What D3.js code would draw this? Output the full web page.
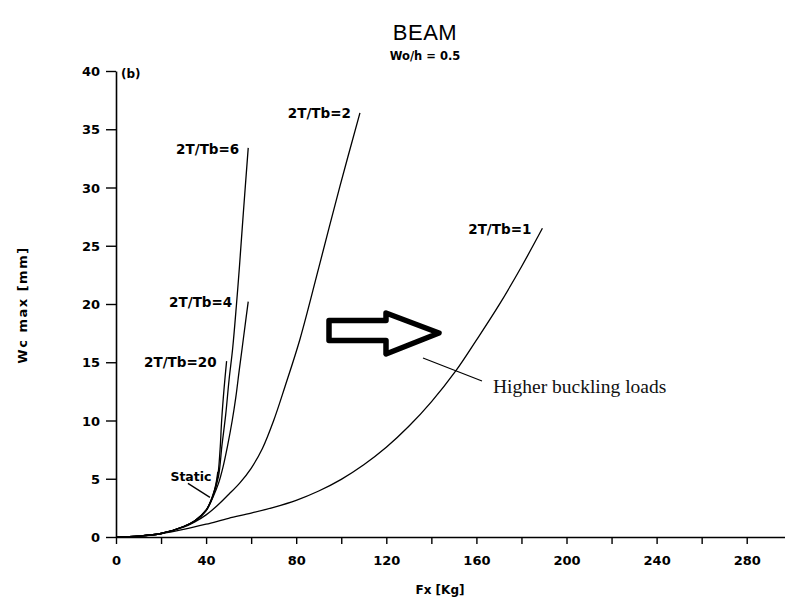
<!DOCTYPE html>
<html><head><meta charset="utf-8">
<script src="https://cdn.jsdelivr.net/npm/d3@7"></script>
<style>body{margin:0;background:#fff}svg{display:block}</style>
</head><body><svg id="c" width="785" height="603"></svg>
<script>
// ---- data ----
const xTickValues = d3.range(0, 300, 20);
const xTickLabels = [0, 40, 80, 120, 160, 200, 240, 280];
const yTickValues = [0, 5, 10, 15, 20, 25, 30, 35, 40];
const seriesNames = ["2T/Tb=1", "2T/Tb=2", "2T/Tb=6", "2T/Tb=4", "2T/Tb=20", "Static"];

const fxR1 = [0, 10, 20, 30, 40, 50, 60, 70, 80, 90, 100, 110, 120, 130, 140, 151, 160, 170, 180, 189.3];
const wcR1 = [0, 0.07, 0.28, 0.65, 1.1, 1.6, 2.05, 2.55, 3.15, 3.95, 4.95, 6.2, 7.7, 9.5, 11.6, 14.3, 16.9, 19.9, 23.2, 26.5];

const fxR2 = [0, 10, 20, 30, 35, 40, 45, 50, 55, 60, 65, 70, 75, 81.7, 90, 99.4, 108.3];
const wcR2 = [0, 0.08, 0.3, 0.85, 1.3, 1.9, 2.7, 3.65, 4.65, 5.9, 7.6, 10.0, 12.9, 17.0, 23.1, 30.1, 36.4];

const fxR6 = [0, 10, 20, 30, 35, 40, 43, 45.5, 47, 48.7, 50.2, 51.8, 53.5, 54.8, 56.6, 58.7];
const wcR6 = [0, 0.08, 0.3, 0.9, 1.4, 2.3, 3.5, 5.2, 7.8, 10.5, 13.5, 16.2, 20.0, 23.2, 28.0, 33.4];

const fxR4 = [0, 10, 20, 30, 35, 40, 43, 45.5, 47.5, 49.5, 51.6, 53.2, 54.7, 56, 57.4, 58.7];
const wcR4 = [0, 0.08, 0.3, 0.9, 1.4, 2.3, 3.4, 4.6, 6.0, 7.8, 10.0, 12.0, 14.3, 16.2, 18.3, 20.2];

const fxR20 = [0, 10, 20, 30, 35, 40, 43, 45, 46.2, 46.9, 48.0, 49.1];
const wcR20 = [0, 0.08, 0.3, 0.9, 1.4, 2.3, 3.6, 5.0, 7.5, 10.0, 12.8, 15.1];

const fxStatic = [0, 10, 20, 30, 35, 40, 43, 44.3, 45.2];
const wcStatic = [0, 0.08, 0.3, 0.88, 1.35, 2.25, 3.5, 4.5, 5.6];

const series = [
  {name: seriesNames[0], fx: fxR1, wc: wcR1, lx: -11, ly: 1},
  {name: seriesNames[1], fx: fxR2, wc: wcR2, lx: -9, ly: 0},
  {name: seriesNames[2], fx: fxR6, wc: wcR6, lx: -9, ly: 1},
  {name: seriesNames[3], fx: fxR4, wc: wcR4, lx: -16, ly: 0},
  {name: seriesNames[4], fx: fxR20, wc: wcR20, lx: -10, ly: 1},
  {name: seriesNames[5], fx: fxStatic, wc: wcStatic, lx: null}
];

// ---- chart ----
const svg = d3.select("#c");
const x = d3.scaleLinear().domain([0, 297]).range([116, 785]);
const y = d3.scaleLinear().domain([0, 40]).range([537, 71]);
const tickFont = "DejaVu Sans, sans-serif";

// x axis
const gx = svg.append("g").attr("transform", `translate(0,${y(0)})`)
  .call(d3.axisBottom(x).tickValues(xTickValues).tickSize(7).tickSizeOuter(0).tickPadding(12)
    .tickFormat(d => xTickLabels.includes(d) ? d : ""));
// y axis
const gy = svg.append("g").attr("transform", `translate(${x(0)},0)`)
  .call(d3.axisLeft(y).tickValues(yTickValues).tickSize(10).tickSizeOuter(0).tickPadding(6));

[gx, gy].forEach(g => {
  g.selectAll("path.domain").attr("stroke", "#000").attr("stroke-width", 1.6);
  g.selectAll(".tick line").attr("stroke", "#000").attr("stroke-width", 1.4);
  g.selectAll(".tick text").attr("fill", "#000").attr("font-family", tickFont)
    .attr("font-size", 13).attr("font-weight", "bold");
});
gy.selectAll(".tick text").attr("dy", "0.36em");

// curves
const line = d3.line().x(d => x(d[0])).y(d => y(d[1])).curve(d3.curveCatmullRom.alpha(0.5));
series.forEach(s => {
  const pts = s.fx.map((f, i) => [f, s.wc[i]]);
  svg.append("path").attr("d", line(pts)).attr("fill", "none")
    .attr("stroke", "#000").attr("stroke-width", 1.3);
  if (s.lx !== null) {
    const last = pts[pts.length - 1];
    svg.append("text").attr("x", x(last[0]) + s.lx).attr("y", y(last[1]) + s.ly)
      .attr("dy", "0.36em").attr("text-anchor", "end")
      .attr("font-family", tickFont).attr("font-size", 13.5).attr("font-weight", "bold")
      .attr("fill", "#000").text(s.name);
  }
});

// Static label with pointer
const sp = [x(41.7), y(3.4)];
svg.append("line").attr("x1", sp[0] - 22).attr("y1", sp[1] - 14).attr("x2", sp[0]).attr("y2", sp[1])
  .attr("stroke", "#000").attr("stroke-width", 1.3);
svg.append("text").attr("x", sp[0] - 19).attr("y", sp[1] - 21).attr("dy", "0.36em")
  .attr("text-anchor", "middle").attr("font-family", tickFont).attr("font-size", 12.5)
  .attr("font-weight", "bold").text(seriesNames[5]);

// titles
svg.append("text").attr("x", 425).attr("y", 40).attr("text-anchor", "middle")
  .attr("font-family", "Liberation Sans, Arial, sans-serif").attr("font-size", 22)
  .attr("letter-spacing", 0.5).text("BEAM");
svg.append("text").attr("x", 425).attr("y", 60).attr("text-anchor", "middle")
  .attr("font-family", tickFont).attr("font-size", 11.5).attr("font-weight", "bold").text("Wo/h = 0.5");
svg.append("text").attr("x", 121).attr("y", 74).attr("dy", "0.36em")
  .attr("font-family", tickFont).attr("font-size", 12).attr("font-weight", "bold").text("(b)");

// axis titles
svg.append("text").attr("x", 440).attr("y", 590).attr("dy", "0.36em").attr("text-anchor", "middle")
  .attr("font-family", tickFont).attr("font-size", 12).attr("font-weight", "bold").text("Fx [Kg]");
svg.append("text").attr("transform", "translate(22,305) rotate(-90)").attr("dy", "0.36em")
  .attr("text-anchor", "middle").attr("font-family", tickFont).attr("font-size", 13)
  .attr("font-weight", "bold").attr("letter-spacing", 1.5).text("Wc max [mm]");

// hollow arrow annotation
const arrowPts = [[329, 320.5], [386, 320.5], [386, 313], [439, 333], [386, 354], [386, 340.5], [329, 340.5]];
svg.append("path").attr("d", d3.line()(arrowPts) + "Z").attr("fill", "none")
  .attr("stroke", "#000").attr("stroke-width", 5.5).attr("stroke-linejoin", "round");
svg.append("line").attr("x1", 423).attr("y1", 358).attr("x2", 482).attr("y2", 381)
  .attr("stroke", "#000").attr("stroke-width", 1.2);
svg.append("text").attr("x", 493).attr("y", 393)
  .attr("font-family", "Liberation Serif, Times New Roman, serif").attr("font-size", 19.5)
  .attr("fill", "#111").text("Higher buckling loads");
</script></body></html>
